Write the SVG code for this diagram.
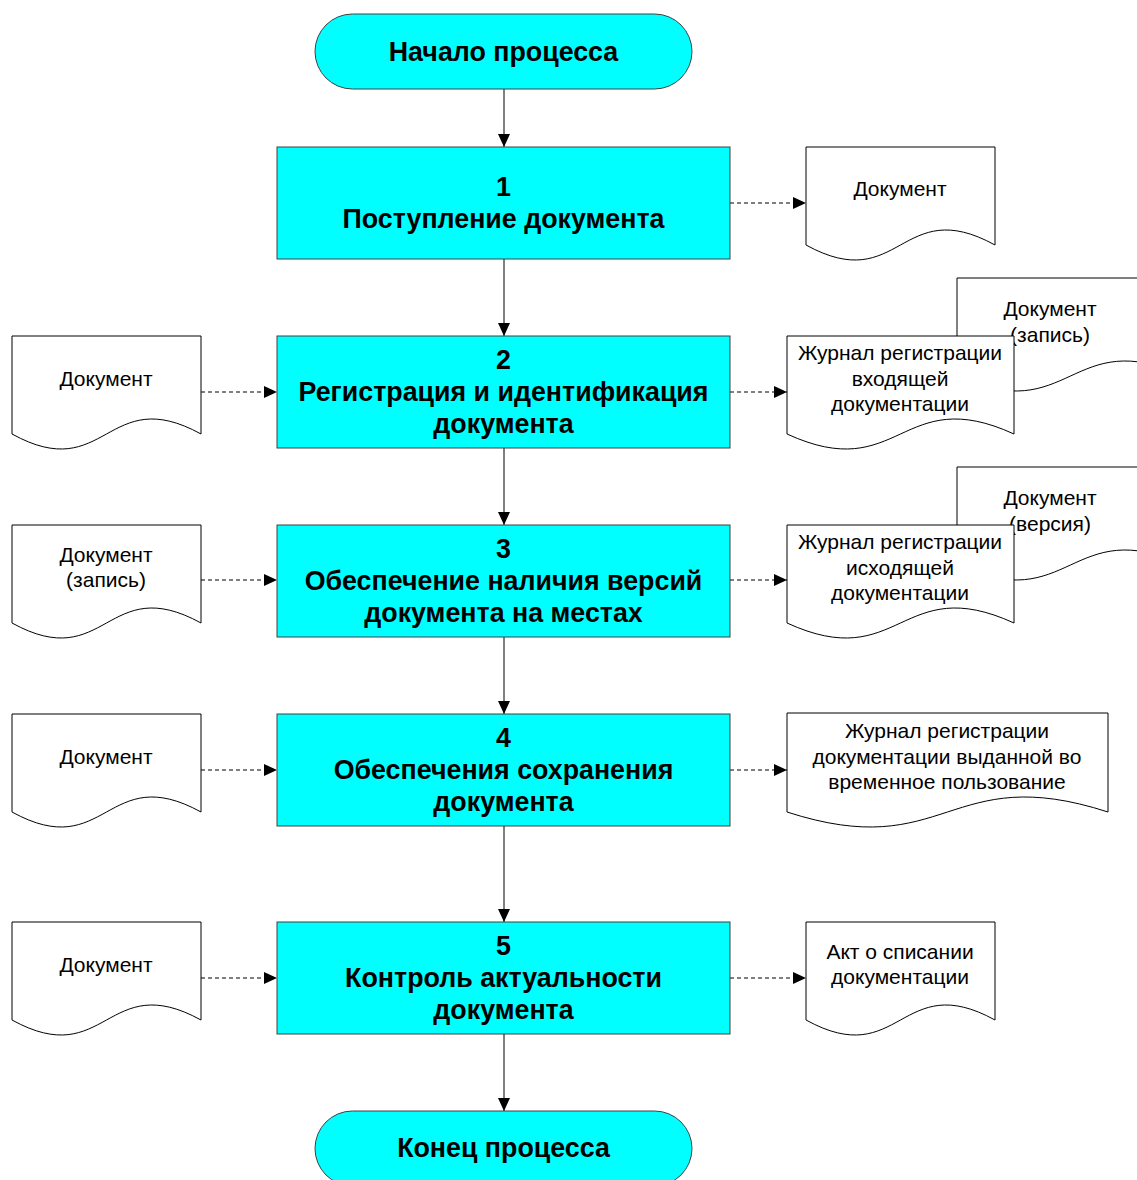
<svg xmlns="http://www.w3.org/2000/svg" width="1137" height="1180" viewBox="0 0 1137 1180">
<style>
.proc{fill:#00FFFF;stroke:#404040;stroke-width:1}
.doc{fill:#FFFFFF;stroke:#000;stroke-width:1}
.tb{font-family:"Liberation Sans",Arial,sans-serif;font-weight:bold;font-size:26.8px;fill:#000;text-anchor:middle}
.t{font-family:"Liberation Sans",Arial,sans-serif;font-size:21px;fill:#000;text-anchor:middle}
.solid{stroke:#000;stroke-width:1;fill:none;marker-end:url(#ah)}
.dash{stroke:#000;stroke-width:1;fill:none;stroke-dasharray:4,3;marker-end:url(#ah)}
</style>
<defs>
<marker id="ah" markerUnits="userSpaceOnUse" markerWidth="13" markerHeight="12" refX="13" refY="6" orient="auto">
<path d="M0,0 L13,6 L0,12 Z" fill="#000"/>
</marker>
</defs>
<rect width="1137" height="1180" fill="#FFFFFF"/>

<g id="connectors">
<line class="solid" x1="504" y1="89" x2="504" y2="147"/>
<line class="solid" x1="504" y1="259" x2="504" y2="336"/>
<line class="solid" x1="504" y1="448" x2="504" y2="525"/>
<line class="solid" x1="504" y1="637" x2="504" y2="714"/>
<line class="solid" x1="504" y1="826" x2="504" y2="922"/>
<line class="solid" x1="504" y1="1034" x2="504" y2="1111"/>
<line class="dash" x1="730" y1="203" x2="806" y2="203"/>
<line class="dash" x1="201" y1="392" x2="277" y2="392"/>
<line class="dash" x1="730" y1="392" x2="787" y2="392"/>
<line class="dash" x1="201" y1="580" x2="277" y2="580"/>
<line class="dash" x1="730" y1="580" x2="787" y2="580"/>
<line class="dash" x1="201" y1="770" x2="277" y2="770"/>
<line class="dash" x1="730" y1="770" x2="787" y2="770"/>
<line class="dash" x1="201" y1="978" x2="277" y2="978"/>
<line class="dash" x1="730" y1="978" x2="806" y2="978"/>
</g>

<g id="start">
<rect class="proc" x="315" y="14" width="377" height="75" rx="37.5" ry="37.5"/>
<text class="tb" x="503.5" y="61">Начало процесса</text>
</g>

<g id="step1">
<rect class="proc" x="277" y="147" width="453" height="112"/>
<text class="tb" x="503.5" y="196">1</text>
<text class="tb" x="503.5" y="228">Поступление документа</text>
</g>

<g id="step2">
<rect class="proc" x="277" y="336" width="453" height="112"/>
<text class="tb" x="503.5" y="369">2</text>
<text class="tb" x="503.5" y="401">Регистрация и идентификация</text>
<text class="tb" x="503.5" y="433">документа</text>
</g>

<g id="step3">
<rect class="proc" x="277" y="525" width="453" height="112"/>
<text class="tb" x="503.5" y="558">3</text>
<text class="tb" x="503.5" y="590">Обеспечение наличия версий</text>
<text class="tb" x="503.5" y="622">документа на местах</text>
</g>

<g id="step4">
<rect class="proc" x="277" y="714" width="453" height="112"/>
<text class="tb" x="503.5" y="747">4</text>
<text class="tb" x="503.5" y="779">Обеспечения сохранения</text>
<text class="tb" x="503.5" y="811">документа</text>
</g>

<g id="step5">
<rect class="proc" x="277" y="922" width="453" height="112"/>
<text class="tb" x="503.5" y="955">5</text>
<text class="tb" x="503.5" y="987">Контроль актуальности</text>
<text class="tb" x="503.5" y="1019">документа</text>
</g>

<g id="end">
<rect class="proc" x="315" y="1111" width="377" height="75" rx="37.5" ry="37.5"/>
<text class="tb" x="503.5" y="1157">Конец процесса</text>
</g>

<g id="doc-out1">
<path class="doc" d="M806,147 H995 V245 C900.5,193 900.5,297 806,245 Z"/>
<text class="t" x="900" y="195.5">Документ</text>
</g>

<g id="doc-in2">
<path class="doc" d="M12,336 H201 V434 C106.5,382 106.5,486 12,434 Z"/>
<text class="t" x="106" y="385.5">Документ</text>
</g>

<g id="doc-out2b">
<path class="doc" d="M957,278 H1184 V376 C1070.5,324 1070.5,428 957,376 Z"/>
<text class="t" x="1050" y="315.5">Документ</text>
<text class="t" x="1050" y="341.5">(запись)</text>
</g>

<g id="doc-out2a">
<path class="doc" d="M787,336 H1014 V434 C900.5,382 900.5,486 787,434 Z"/>
<text class="t" x="900" y="359.5">Журнал регистрации</text>
<text class="t" x="900" y="385.5">входящей</text>
<text class="t" x="900" y="410.5">документации</text>
</g>

<g id="doc-in3">
<path class="doc" d="M12,525 H201 V623 C106.5,571 106.5,675 12,623 Z"/>
<text class="t" x="106" y="561.5">Документ</text>
<text class="t" x="106" y="586.5">(запись)</text>
</g>

<g id="doc-out3b">
<path class="doc" d="M957,467 H1184 V565 C1070.5,513 1070.5,617 957,565 Z"/>
<text class="t" x="1050" y="504.5">Документ</text>
<text class="t" x="1050" y="530.5">(версия)</text>
</g>

<g id="doc-out3a">
<path class="doc" d="M787,525 H1014 V623 C900.5,571 900.5,675 787,623 Z"/>
<text class="t" x="900" y="548.5">Журнал регистрации</text>
<text class="t" x="900" y="574.5">исходящей</text>
<text class="t" x="900" y="599.5">документации</text>
</g>

<g id="doc-in4">
<path class="doc" d="M12,714 H201 V812 C106.5,760 106.5,864 12,812 Z"/>
<text class="t" x="106" y="763.5">Документ</text>
</g>

<g id="doc-out4">
<path class="doc" d="M787,713 H1108 V812 C947.5,760 947.5,864 787,812 Z"/>
<text class="t" x="947" y="737.5">Журнал регистрации</text>
<text class="t" x="947" y="763.5">документации выданной во</text>
<text class="t" x="947" y="788.5">временное пользование</text>
</g>

<g id="doc-in5">
<path class="doc" d="M12,922 H201 V1020 C106.5,968 106.5,1072 12,1020 Z"/>
<text class="t" x="106" y="971.5">Документ</text>
</g>

<g id="doc-out5">
<path class="doc" d="M806,922 H995 V1020 C900.5,968 900.5,1072 806,1020 Z"/>
<text class="t" x="900" y="958.5">Акт о списании</text>
<text class="t" x="900" y="983.5">документации</text>
</g>
</svg>
